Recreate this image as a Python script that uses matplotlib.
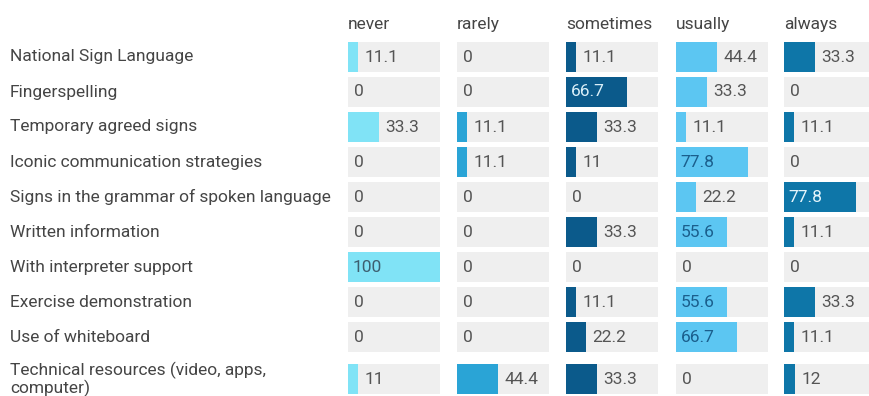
import numpy as np
import matplotlib
matplotlib.use("Agg")
import matplotlib.pyplot as plt
from matplotlib.transforms import blended_transform_factory

plt.rcParams["font.family"] = ["Roboto", "DejaVu Sans"]

# ── dados ─────────────────────────────────────────────────────────
estrategias = [
    "National Sign Language",
    "Fingerspelling",
    "Temporary agreed signs",
    "Iconic communication strategies",
    "Signs in the grammar of spoken language",
    "Written information",
    "With interpreter support",
    "Exercise demonstration",
    "Use of whiteboard",
    "Technical resources (video, apps,\ncomputer)",
]
frequencias = ["never", "rarely", "sometimes", "usually", "always"]

never     = [11.1, 0, 33.3, 0, 0, 0, 100, 0, 0, 11]
rarely    = [0, 0, 11.1, 11.1, 0, 0, 0, 0, 0, 44.4]
sometimes = [11.1, 66.7, 33.3, 11, 0, 33.3, 0, 11.1, 22.2, 33.3]
usually   = [44.4, 33.3, 11.1, 77.8, 22.2, 55.6, 0, 55.6, 66.7, 0]
always    = [33.3, 0, 11.1, 0, 77.8, 11.1, 0, 33.3, 11.1, 12]
valores = [never, rarely, sometimes, usually, always]

# ── cores ─────────────────────────────────────────────────────────
CORES      = ["#80e3f6", "#2aa4d6", "#0b5a8b", "#5cc6f2", "#0e76a8"]
TXT_DENTRO = ["#3d5f70", "#e6f5fb", "#d9eef8", "#1b5f8d", "#e6f5fb"]
FUNDO      = "#efefef"
TXT        = "#454545"
TXT_VAL    = "#555555"
FS         = 12.5

W, H = 869, 396
fig = plt.figure(figsize=(W / 100, H / 100), dpi=100, facecolor="white")

# geometria em pixels
col_x0   = [348, 457, 566, 676, 784]
col_larg = 92
y0_px, passo = 57, 35
y_min, y_max = -0.5, 9.7

n = len(estrategias)
# a última linha tem rótulo em duas linhas, então desce um pouco
y_lin = np.arange(n, dtype=float)
y_lin[-1] += 0.2

topo = y0_px + y_min * passo
base = y0_px + y_max * passo

eixos = []
for i, nome in enumerate(frequencias):
    ax = fig.add_axes([col_x0[i] / W, 1 - base / H, col_larg / W, (base - topo) / H])
    ax.set_xlim(0, 100)
    ax.set_ylim(y_max, y_min)
    ax.axis("off")

    ax.barh(y_lin, [100] * n, height=0.83, color=FUNDO, zorder=1)
    ax.barh(y_lin, valores[i], height=0.83, color=CORES[i], zorder=2)

    for yi, v in zip(y_lin, valores[i]):
        txt = f"{v:g}"
        if v > 50:
            ax.annotate(txt, xy=(0, yi), xytext=(3.5, 0), textcoords="offset points",
                        va="center", ha="left", fontsize=FS, color=TXT_DENTRO[i], zorder=3)
        else:
            ax.annotate(txt, xy=(v, yi), xytext=(4.5, 0), textcoords="offset points",
                        va="center", ha="left", fontsize=FS, color=TXT_VAL, zorder=3)

    ax.annotate(nome, xy=(0, y_min), xycoords="data", xytext=(0, 11),
                textcoords="offset points", va="center", ha="left",
                fontsize=FS, color=TXT)
    eixos.append(ax)

# rótulos das linhas
trans = blended_transform_factory(fig.transFigure, eixos[0].transData)
for yi, rot in zip(y_lin, estrategias):
    fig.text(10 / W, yi, rot, transform=trans, va="center", ha="left",
             fontsize=FS, color=TXT, linespacing=1.05)

fig.savefig("out.png", dpi=100, facecolor="white")
